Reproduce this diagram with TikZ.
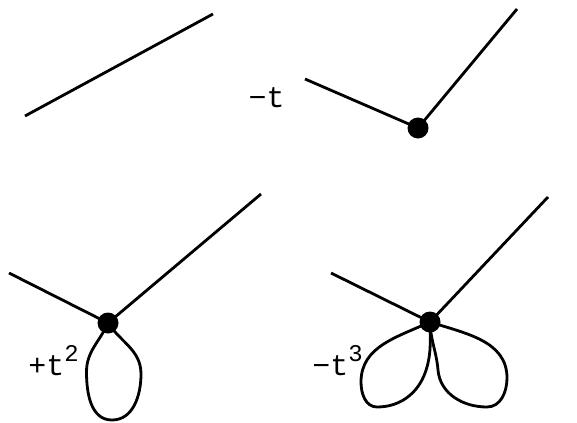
\documentclass[tikz,border=0pt]{standalone}
\usepackage{fontspec}
\setmonofont{Liberation Mono}
\begin{document}
\begin{tikzpicture}[x=1bp,y=1bp,line width=2.8bp,
    vtx/.style={circle,fill=black,inner sep=0pt,minimum size=21bp},
    lbl/.style={font=\ttfamily\fontsize{30}{34}\selectfont,inner sep=0pt,anchor=base east}]
        \useasboundingbox (0,0) rectangle (577,422);

        % no vertex
        \coordinate (a1) at (25,306);
        \coordinate (b1) at (213,408);
        \draw (a1) -- (b1);

        % one vertex
        \coordinate (a2) at (305,343);
        \coordinate (v2) at (418,294);
        \coordinate (b2) at (517,413);
        \draw (a2) -- (v2) -- (b2);
        \node[vtx] (d2) at (v2) {};
        \node[lbl] (l2) at (286,315) {−t};

        % one loop
        \coordinate (a3) at (9,149);
        \coordinate (v3) at (108,99);
        \coordinate (b3) at (261,228);
        \draw (a3) -- (v3) -- (b3);
        \draw (v3) to[out=-114,in=90] (86.5,50) to[out=-90,in=180] (112,2)
                   to[out=0,in=-90] (141,48) to[out=90,in=-56] (v3);
        \node[vtx] (d3) at (v3) {};
        \node[lbl] (l3) at (80,47) {+t\raisebox{14bp}{\fontsize{24}{28}\selectfont 2}};

        % two loops
        \coordinate (a4) at (331,149);
        \coordinate (v4) at (430,100);
        \coordinate (b4) at (548,225);
        \draw (a4) -- (v4) -- (b4);
        \draw (v4) to[out=-155,in=90] (361,40) to[out=-90,in=180] (377,15)
                   to[out=0,in=-105] (427,55) to[out=75,in=-90] (v4);
        \draw (v4) to[out=-88,in=95] (438,52) to[out=-85,in=180] (487,15)
                   to[out=0,in=-90] (507,44) to[out=90,in=-18] (v4);
        \node[vtx] (d4) at (v4) {};
        \node[lbl] (l4) at (364,47) {−t\raisebox{14bp}{\fontsize{24}{28}\selectfont 3}};
    \end{tikzpicture}
\end{document}
